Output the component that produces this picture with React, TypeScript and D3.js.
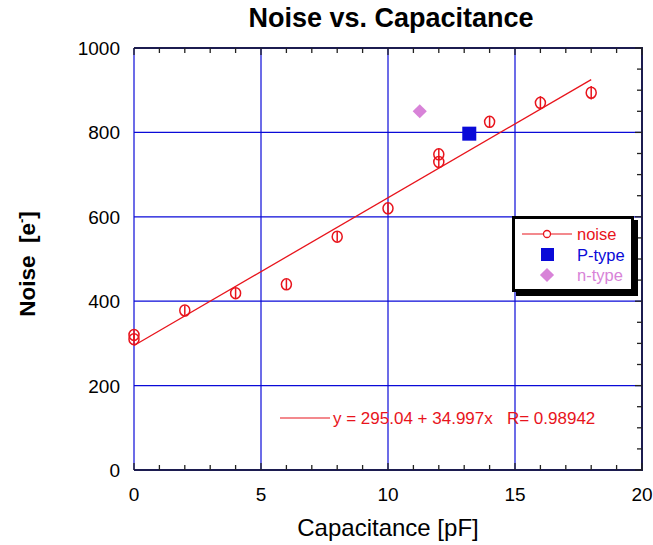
import React, { useEffect, useRef } from 'react';
import * as d3 from 'd3';

// noise measurements (capacitance pF, noise e-, error)
const capacitance = [0, 0, 2, 4, 6, 8, 10, 12, 12, 14, 16, 18];
const noise = [320, 310, 378, 419, 440, 553, 620, 748, 730, 825, 870, 894];
const noiseErr = [12, 12, 12, 12, 12, 12, 14, 14, 14, 14, 16, 16];

const pType = [{ x: 13.2, y: 797 }];
const nType = [{ x: 11.25, y: 850 }];

const fitIntercept = 295.04;
const fitSlope = 34.997;
const fitR = 0.98942;
const fitRange = [0, 18];

const xTicks = [0, 5, 10, 15, 20];
const yTicks = [0, 200, 400, 600, 800, 1000];

const font = "'Liberation Sans', Arial, sans-serif";
const red = '#e8141c';
const blue = '#0a0ad8';
const pink = '#d883d8';
const frame = '#1c1c50';

function NoiseChart() {
    const ref = useRef<SVGSVGElement>(null);
    const width = 653;
    const height = 545;
    const marginTop = 48;
    const marginRight = 11;
    const marginBottom = 75;
    const marginLeft = 134;

    useEffect(() => {
        const svg = d3.select(ref.current)
            .attr('width', width)
            .attr('height', height)
            .attr('viewBox', [0, 0, width, height]);
        svg.selectAll('*').remove();

        const x = d3.scaleLinear().domain([0, 20]).range([marginLeft, width - marginRight]);
        const y = d3.scaleLinear().domain([0, 1000]).range([height - marginBottom, marginTop]);
        const x0 = x(0), x1 = x(20), y0 = y(0), y1 = y(1000);

        svg.append('rect').attr('width', width).attr('height', height).attr('fill', '#fff');

        // grid
        const grid = svg.append('g').attr('stroke', blue).attr('stroke-width', 1.2);
        grid.selectAll('.gx').data(xTicks.slice(0, -1)).join('line')
            .attr('x1', d => x(d)).attr('x2', d => x(d)).attr('y1', y0).attr('y2', y1);
        grid.selectAll('.gy').data(yTicks.slice(1, -1)).join('line')
            .attr('y1', d => y(d)).attr('y2', d => y(d)).attr('x1', x0).attr('x2', x1);

        // frame: top, right, bottom
        svg.append('path')
            .attr('d', `M${x0},${y1}H${x1}V${y0}H${x0}`)
            .attr('fill', 'none').attr('stroke', frame).attr('stroke-width', 2);

        // ticks
        const ticks = svg.append('g').attr('stroke', '#222').attr('stroke-width', 1.3);
        const xMinor = d3.range(0, 21, 1);
        ticks.selectAll('.tb').data(xMinor).join('line')
            .attr('x1', d => x(d)).attr('x2', d => x(d))
            .attr('y1', y0).attr('y2', d => y0 - (d % 5 === 0 ? 7 : 5));
        ticks.selectAll('.tt').data(xMinor).join('line')
            .attr('x1', d => x(d)).attr('x2', d => x(d))
            .attr('y1', y1).attr('y2', d => y1 + (d % 5 === 0 ? 7 : 5));
        const yMinor = d3.range(0, 1001, 50);
        ticks.selectAll('.tr').data(yMinor).join('line')
            .attr('y1', d => y(d)).attr('y2', d => y(d))
            .attr('x1', x1).attr('x2', d => x1 - (d % 200 === 0 ? 7 : 5));

        // tick labels
        svg.append('g').selectAll('text').data(xTicks).join('text')
            .attr('x', d => x(d)).attr('y', y0 + 31)
            .attr('text-anchor', 'middle')
            .attr('font-family', font).attr('font-size', 19)
            .text(d => d);
        svg.append('g').selectAll('text').data(yTicks).join('text')
            .attr('x', x0 - 14).attr('y', d => y(d) + 7)
            .attr('text-anchor', 'end')
            .attr('font-family', font).attr('font-size', 19)
            .text(d => d);

        // fit line
        const line = d3.line<number>()
            .x(d => x(d))
            .y(d => y(fitIntercept + fitSlope * d));
        svg.append('path')
            .attr('d', line(fitRange))
            .attr('fill', 'none').attr('stroke', red).attr('stroke-width', 1.3);

        // noise points with error bars
        const pts = capacitance.map((c, i) => ({ x: c, y: noise[i], e: noiseErr[i] }));
        const g = svg.append('g').attr('stroke', red).attr('stroke-width', 1.5).attr('fill', 'none');
        g.selectAll('line').data(pts).join('line')
            .attr('x1', d => x(d.x)).attr('x2', d => x(d.x))
            .attr('y1', d => y(d.y - d.e)).attr('y2', d => y(d.y + d.e));
        g.selectAll('ellipse').data(pts).join('ellipse')
            .attr('cx', d => x(d.x)).attr('cy', d => y(d.y))
            .attr('rx', 5).attr('ry', 5.5);

        // P-type and n-type
        svg.append('g').selectAll('rect').data(pType).join('rect')
            .attr('x', d => x(d.x) - 7).attr('y', d => y(d.y) - 7)
            .attr('width', 14).attr('height', 14).attr('fill', blue);
        svg.append('g').selectAll('path').data(nType).join('path')
            .attr('transform', d => `translate(${x(d.x)},${y(d.y)}) rotate(45)`)
            .attr('d', 'M-5,-5H5V5H-5Z').attr('fill', pink);

        // fit label
        svg.append('line')
            .attr('x1', 280).attr('x2', 330).attr('y1', 418).attr('y2', 418)
            .attr('stroke', red).attr('stroke-width', 1.2);
        svg.append('text')
            .attr('x', 333).attr('y', 424)
            .attr('font-family', font).attr('font-size', 17).attr('fill', red)
            .attr('xml:space', 'preserve')
            .text(`y = ${fitIntercept} + ${fitSlope}x   R= ${fitR}`);

        // legend
        const lg = svg.append('g');
        lg.append('rect').attr('x', 516).attr('y', 220).attr('width', 122).attr('height', 76).attr('fill', '#000');
        lg.append('rect').attr('x', 513.5).attr('y', 217.5).attr('width', 119).attr('height', 73)
            .attr('fill', '#fff').attr('stroke', '#000').attr('stroke-width', 3);
        lg.append('line').attr('x1', 522).attr('x2', 572).attr('y1', 234).attr('y2', 234)
            .attr('stroke', red).attr('stroke-width', 1.2);
        lg.append('circle').attr('cx', 547).attr('cy', 234).attr('r', 3.5)
            .attr('fill', '#fff').attr('stroke', red).attr('stroke-width', 1.3);
        lg.append('rect').attr('x', 541).attr('y', 248).attr('width', 13).attr('height', 13).attr('fill', blue);
        lg.append('path').attr('transform', 'translate(547,275) rotate(45)')
            .attr('d', 'M-5,-5H5V5H-5Z').attr('fill', pink);
        const items = [
            { label: 'noise', color: red, y: 234 },
            { label: 'P-type', color: blue, y: 255 },
            { label: 'n-type', color: pink, y: 275 },
        ];
        lg.selectAll('text').data(items).join('text')
            .attr('x', 577).attr('y', d => d.y + 6)
            .attr('font-family', font).attr('font-size', 16.5).attr('fill', d => d.color)
            .text(d => d.label);

        // titles
        svg.append('text')
            .attr('x', 391).attr('y', 27).attr('text-anchor', 'middle')
            .attr('font-family', font).attr('font-size', 27).attr('font-weight', 'bold')
            .text('Noise vs. Capacitance');
        svg.append('text')
            .attr('x', 388).attr('y', 536).attr('text-anchor', 'middle')
            .attr('font-family', font).attr('font-size', 24)
            .text('Capacitance [pF]');
        const yl = svg.append('text')
            .attr('transform', 'translate(35,264) rotate(-90)')
            .attr('text-anchor', 'middle')
            .attr('font-family', font).attr('font-size', 22.5).attr('font-weight', 'bold')
            .attr('xml:space', 'preserve');
        yl.append('tspan').text('Noise  [e');
        yl.append('tspan').attr('dy', -9).attr('font-size', 13).text('-');
        yl.append('tspan').attr('dy', 9).text(']');
    }, []);

    return <svg ref={ref} style={{ display: 'block' }}></svg>;
}

export default function App() {
    return (
        <div style={{ position: 'fixed', left: 0, top: 0 }}>
            <NoiseChart />
        </div>
    );
}
